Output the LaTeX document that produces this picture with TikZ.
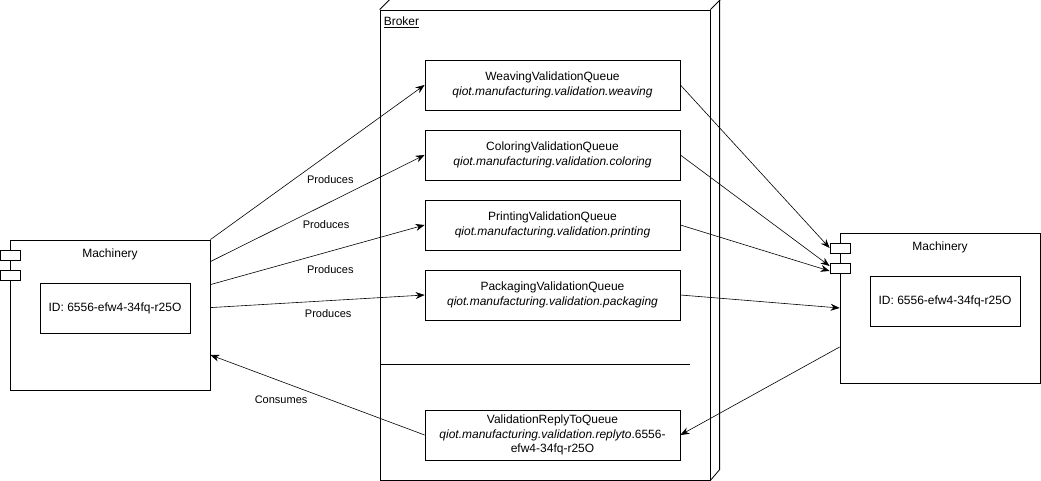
\documentclass[tikz,border=0pt]{standalone}
\usepackage{fontspec}
\setmainfont{Liberation Sans}
\usetikzlibrary{arrows.meta, positioning}

\begin{document}
\begin{tikzpicture}[x=1pt,y=-1pt,
    box/.style={rectangle, draw, line width=0.8pt, inner sep=0pt},
    queue/.style={box, minimum width=255pt, minimum height=50pt, align=center, font=\fontsize{12}{14.5}\selectfont},
    machine/.style={box, minimum width=200pt, minimum height=150pt},
    port/.style={box, minimum width=20pt, minimum height=10pt, fill=white},
    idbox/.style={box, minimum width=150pt, minimum height=50pt, font=\fontsize{12}{14}\selectfont},
    conn/.style={-{Stealth[length=9pt,width=7pt]}, line width=0.6pt},
    lbl/.style={font=\fontsize{11}{13}\selectfont, inner sep=0pt}]
    \useasboundingbox (0,0) rectangle (1041,481);

    % broker
    \node[box, minimum width=330pt, minimum height=470pt] (broker) at (545,245) {};
    \draw[line width=0.8pt] (broker.north west) -- ++(10,-10) -- ++(330,0) -- ++(0,470) -- (broker.south east);
    \draw[line width=0.8pt] (broker.north east) -- ++(10,-10);
    \node[anchor=north west, inner sep=0pt, font=\fontsize{12}{14}\selectfont] (brokerlabel) at ([shift={(4pt,-7pt)}]broker.north west) {\underline{Broker}};

    \node[queue] (weaving) at (552.5,85) {WeavingValidationQueue\\\textit{qiot.manufacturing.validation.weaving}};
    \node[queue] (coloring) at (552.5,155) {ColoringValidationQueue\\\textit{qiot.manufacturing.validation.coloring}};
    \node[queue] (printing) at (552.5,225) {PrintingValidationQueue\\\textit{qiot.manufacturing.validation.printing}};
    \node[queue] (packaging) at (552.5,295) {PackagingValidationQueue\\\textit{qiot.manufacturing.validation.packaging}};
    \node[queue] (reply) at (552.5,435) {ValidationReplyToQueue\\\textit{qiot.manufacturing.validation.replyto}.6556-\\efw4-34fq-r25O};

    \coordinate (sepL) at (380,364);
    \coordinate (sepR) at (690,364);
    \draw[line width=0.8pt] (sepL) -- (sepR);

    % machinery, left
    \node[machine] (machL) at (110,315) {};
    \node[lbl, font=\fontsize{12}{14}\selectfont, below=9pt of machL.north] (machLlabel) {Machinery};
    \node[idbox] (idL) at (115,308) {ID: 6556-efw4-34fq-r25O};
    \node[port] (portL1) at (10,255) {};
    \node[port] (portL2) at (10,275) {};

    % machinery, right
    \node[machine] (machR) at (940,308) {};
    \node[lbl, font=\fontsize{12}{14}\selectfont, below=9pt of machR.north] (machRlabel) {Machinery};
    \node[idbox] (idR) at (945,301) {ID: 6556-efw4-34fq-r25O};
    \node[port] (portR1) at (840,248) {};
    \node[port] (portR2) at (840,268) {};

    \draw[conn] (machL.north east) -- node[lbl, pos=0.56, below=22pt] {Produces} (weaving.west);
    \draw[conn] ([yshift=-22pt]machL.north east) -- node[lbl, pos=0.54, below=16pt] {Produces} (coloring.west);
    \draw[conn] ([yshift=-45pt]machL.north east) -- node[lbl, pos=0.56, below=14pt] {Produces} (printing.west);
    \draw[conn] ([yshift=-68pt]machL.north east) -- node[lbl, pos=0.55, below=9pt] {Produces} (packaging.west);
    \draw[conn] (reply.west) -- node[lbl, pos=0.67, below=14pt] {Consumes} ([yshift=-40pt]machL.east);

    \draw[conn] (weaving.east) -- (portR1.west);
    \draw[conn] (coloring.east) -- ([yshift=2pt]portR2.west);
    \draw[conn] (printing.east) -- ([yshift=-3pt]portR2.west);
    \draw[conn] (packaging.east) -- (machR.west);
    \draw[conn] ([yshift=-39pt]machR.west) -- (reply.east);
\end{tikzpicture}
\end{document}
